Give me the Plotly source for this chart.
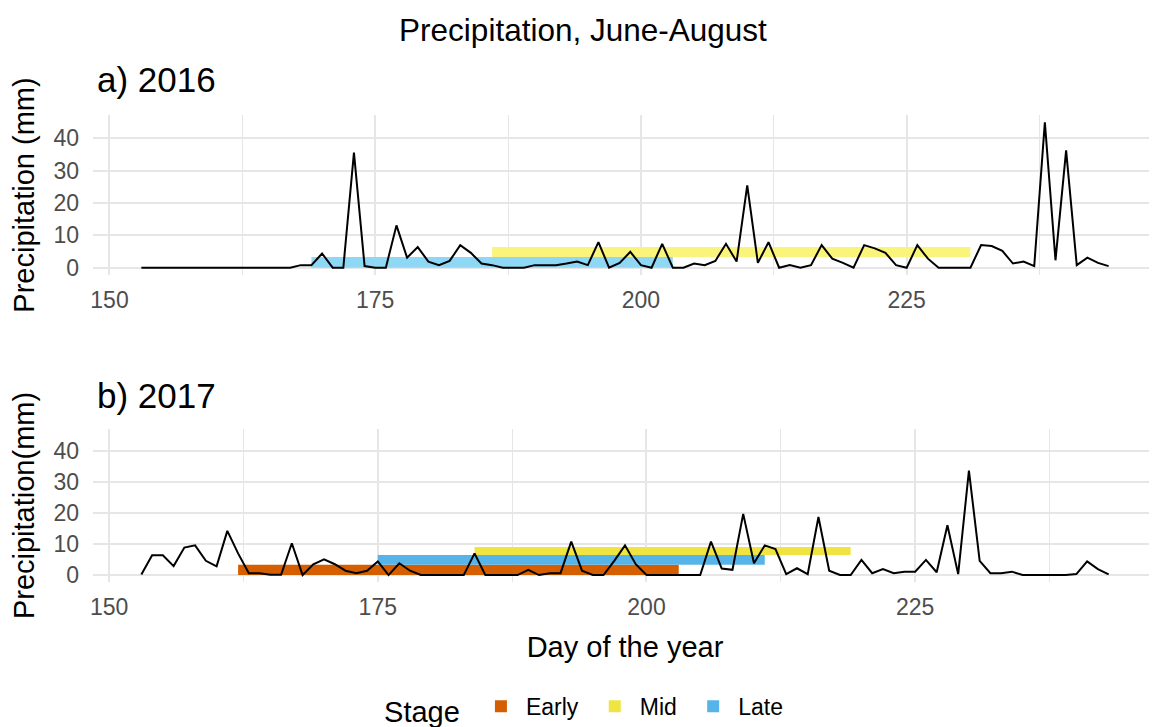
import plotly.graph_objects as go

# ---------------- data ----------------
days_2016 = list(range(153, 245))
precip_2016 = [0, 0, 0, 0, 0, 0, 0, 0, 0, 0, 0, 0, 0, 0, 0,
               0.8, 0.8, 4.4, 0, 0, 35.6, 0.5, 0, 0, 13.1, 3.1, 6.4, 1.9, 0.8,
               2.1, 7.0, 4.6, 1.3, 0.8, 0, 0, 0, 0.8, 0.8, 0.8, 1.3, 1.9, 0.8, 7.9, 0,
               1.5, 4.9, 0.8, 0, 7.4, 0, 0, 1.3, 0.8, 2.1, 7.4, 1.9, 25.5, 1.5, 7.9, 0, 0.8,
               0, 0.8, 7.0, 2.8, 1.5, 0, 7.0, 6.0, 4.6, 0.8, 0, 7.0, 2.8, 0, 0, 0, 0,
               7.0, 6.7, 5.2, 1.3, 1.9, 0.5, 45.0, 2.3, 36.3, 0.8, 3.1, 1.5, 0.5]

days_2017 = list(range(153, 244))
precip_2017 = [0.2, 6.4, 6.4, 2.9, 8.9, 9.6, 4.6, 2.8,
               14.3, 7.0, 0.6, 0.6, 0.1, 0.1, 10.3, 0, 3.5, 5.1,
               3.5, 1.4, 0.6, 1.4, 4.4, 0, 3.8, 1.4, 0, 0,
               0, 0, 0, 7.0, 0, 0, 0, 0, 1.7, 0,
               0.6, 0.6, 10.8, 1.4, 0, 0, 4.6, 9.6, 3.5, 0,
               0, 0, 0, 0, 0, 10.8, 2.1, 1.7, 19.8, 3.8,
               9.6, 8.4, 0.3, 2.2, 0.3, 18.8, 1.4, 0, 0, 4.9,
               0.6, 1.9, 0.6, 1.1, 1.1, 4.9, 0.9, 16.1, 0.3, 33.8,
               4.6, 0.6, 0.6, 1.1, 0, 0, 0, 0, 0, 0.3,
               4.4, 1.9, 0.2]

stages = ["Early", "Mid", "Late"]
stage_start_2016 = [None, 186, 169]
stage_end_2016 = [None, 231, 203]
stage_start_2017 = [162, 184, 175]
stage_end_2017 = [203, 219, 211]

x_ticks = [150, 175, 200, 225]
y_ticks = [0, 10, 20, 30, 40]

# ---------------- styles ----------------
FONT = "Liberation Sans, Arial, sans-serif"
colors_2017 = {"Early": "#D55E00", "Mid": "#F0E442", "Late": "#56B4E9"}
colors_2016 = {"Early": "#D55E00", "Mid": "#FAF57A", "Late": "#8FD8F5"}
# vertical band (ymin, ymax) for each stage in each panel
band_2016 = {"Late": (0, 3.3), "Mid": (3.3, 6.4)}
band_2017 = {"Early": (0, 3.3), "Late": (3.3, 6.5), "Mid": (6.5, 9.1)}

fig = go.Figure()

def add_stage_bars(starts, ends, bands, colors, xa, ya, show):
    for name, s, e in zip(stages, starts, ends):
        if s is None:
            continue
        lo, hi = bands[name]
        fig.add_trace(go.Bar(
            orientation="h", y=[(lo + hi) / 2], x=[e - s], base=[s], width=[hi - lo],
            marker=dict(color=colors[name], line=dict(width=0)),
            name=name + " ", legendgroup=name, showlegend=show,
            xaxis=xa, yaxis=ya, hoverinfo="skip"))

# legend order Early, Mid, Late comes from 2017 traces (added first)
add_stage_bars(stage_start_2017, stage_end_2017, band_2017, colors_2017, "x2", "y2", True)
add_stage_bars(stage_start_2016, stage_end_2016, band_2016, colors_2016, "x", "y", False)

fig.add_trace(go.Scatter(x=days_2016, y=precip_2016, mode="lines",
                         line=dict(color="black", width=2.0), showlegend=False,
                         xaxis="x", yaxis="y"))
fig.add_trace(go.Scatter(x=days_2017, y=precip_2017, mode="lines",
                         line=dict(color="black", width=2.0), showlegend=False,
                         xaxis="x2", yaxis="y2"))

grid = "#E6E6E6"
def xaxis_cfg(rng, title=None):
    d = dict(range=rng, tickvals=x_ticks, showgrid=True, gridcolor=grid, gridwidth=1.6,
             zeroline=False, showline=False, ticks="", automargin=False,
             tickfont=dict(family=FONT, size=23, color="#4D4D4D"),
             ticklabelstandoff=9,
             minor=dict(tick0=150, dtick=12.5, showgrid=True, gridcolor=grid, gridwidth=1.2))
    if title:
        d["title"] = dict(text=title, font=dict(family=FONT, size=29, color="black"), standoff=17)
    return d

def yaxis_cfg(domain, title):
    return dict(domain=domain, range=[-2.25, 47.25], tickvals=y_ticks, showgrid=True,
                gridcolor=grid, gridwidth=1.6, zeroline=False, showline=False, ticks="",
                automargin=False,
                tickfont=dict(family=FONT, size=23, color="#4D4D4D"),
                ticklabelstandoff=13,
                title=dict(text=title, font=dict(family=FONT, size=29, color="black"), standoff=12))

# the page places the figure 8px from the top-left corner of the window
fig.update_layout(
    template="none",
    width=1149, height=719,
    paper_bgcolor="white", plot_bgcolor="white",
    margin=dict(l=85, r=0, t=107, b=145, autoexpand=False),
    barmode="overlay",
    font=dict(family=FONT, color="black"),
    title=dict(text="Precipitation, June-August", x=0.5004, xref="container", xanchor="center",
               y=0.9694, yref="container", yanchor="middle", automargin=False,
               font=dict(family=FONT, size=31.5, color="black")),
    xaxis=dict(anchor="y", **xaxis_cfg([148.45, 248.55])),
    yaxis=dict(anchor="x", **yaxis_cfg([0.6574, 1.0], "Precipitation (mm)")),
    xaxis2=dict(anchor="y2", **xaxis_cfg([148.5, 247.5], "Day of the year")),
    yaxis2=dict(anchor="x2", **yaxis_cfg([0.0, 0.3276], "Precipitation(mm)")),
    legend=dict(orientation="h", xref="container", x=0.5053, xanchor="center",
                yref="container", y=0.0254, yanchor="middle",
                title=dict(text="Stage ", font=dict(family=FONT, size=29, color="black")),
                font=dict(family=FONT, size=23, color="black"),
                traceorder="normal", itemwidth=40, bgcolor="rgba(0,0,0,0)"),
    annotations=[
        dict(text="a) 2016", xref="paper", yref="paper", x=0.002, y=1.075,
             xanchor="left", yanchor="middle", showarrow=False,
             font=dict(family=FONT, size=35, color="black")),
        dict(text="b) 2017", xref="paper", yref="paper", x=0.002, y=0.4004,
             xanchor="left", yanchor="middle", showarrow=False,
             font=dict(family=FONT, size=35, color="black")),
    ],
)

fig.write_html("out.html")
